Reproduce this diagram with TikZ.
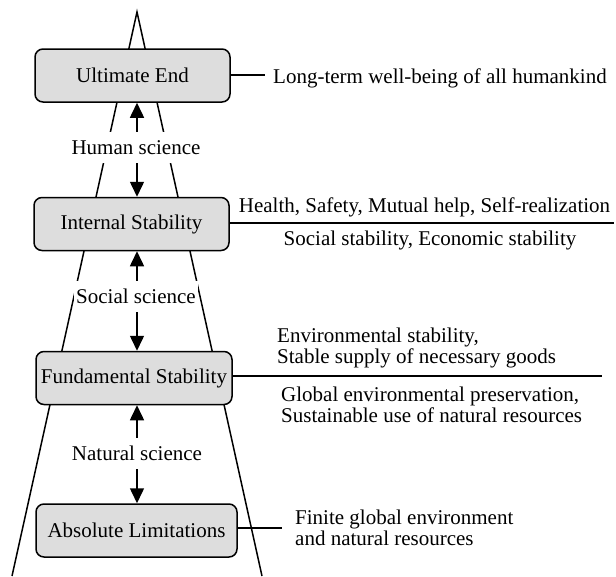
\documentclass[tikz,border=0pt]{standalone}
\usepackage{fontspec}
\setmainfont{Liberation Serif}
\usetikzlibrary{arrows.meta}
\definecolor{boxfill}{RGB}{221,221,221}
\begin{document}
\begin{tikzpicture}[x=1pt,y=-1pt,
  font=\fontsize{21}{20.5}\selectfont,
  level/.style={draw, line width=1.5pt, fill=boxfill, rounded corners=8pt,
    minimum height=53pt, inner sep=0pt},
  sci/.style={fill=white, inner xsep=2pt, inner ysep=8pt, text height=14.5pt, text depth=0.5pt},
  conn/.style={line width=1.5pt},
  dbl/.style={line width=1.5pt, {Triangle[length=15pt,width=14pt]}-{Triangle[length=15pt,width=14pt]}},
  note/.style={inner sep=0pt, align=left}]
\useasboundingbox (0,0) rectangle (616,576);
% tower outline
\coordinate (apex) at (137,12);
\coordinate (bl) at (12,576);
\coordinate (br) at (262,576);
\draw[conn, miter limit=20] (bl) -- (apex) -- (br);
% axis for arrows
\coordinate (ax) at (137,0);
% level boxes
\node[level, minimum width=195pt] (ue) at (132.5,75.5) {Ultimate End};
\node[level, minimum width=195pt] (is) at (131.5,224) {Internal Stability};
\node[level, minimum width=196pt] (fs) at (134,378) {Fundamental Stability};
\node[level, minimum width=201pt] (al) at (136.5,530.5) {Absolute Limitations};
% arrows
\draw[dbl] (ue.south -| ax) -- (is.north -| ax);
\draw[dbl] (is.south -| ax) -- (fs.north -| ax);
\draw[dbl] (fs.south -| ax) -- (al.north -| ax);
% science labels (hide outline and arrow middles)
\node[sci] (hs) at (136,147) {Human science};
\node[sci] (ss) at (136,296) {Social science};
\node[sci] (ns) at (137,453) {Natural science};
% right side
\coordinate (e1) at (265,75);
\coordinate (e2) at (614,223);
\coordinate (e3) at (602,376);
\coordinate (e4) at (282,528);
\draw[conn] (ue.east |- e1) -- (e1);
\draw[conn] (is.east |- e2) -- (e2);
\draw[conn] (fs.east |- e3) -- (e3);
\draw[conn] (al.east |- e4) -- (e4);
\node[note, anchor=base west] (t1) at (273,83) {Long-term well-being of all humankind};
\node[note, anchor=base] (t2a) at (424.5,212) {Health, Safety, Mutual help, Self-realization};
\node[note, anchor=base] (t2b) at (430,245) {Social stability, Economic stability};
\node[note, anchor=base west] (t3a) at (277,363) {Environmental stability,\\Stable supply of necessary goods};
\node[note, anchor=base west] (t3b) at (281,422) {Global environmental preservation,\\Sustainable use of natural resources};
\node[note, anchor=base west] (t4) at (295,545) {Finite global environment\\and natural resources};
\end{tikzpicture}
\end{document}
